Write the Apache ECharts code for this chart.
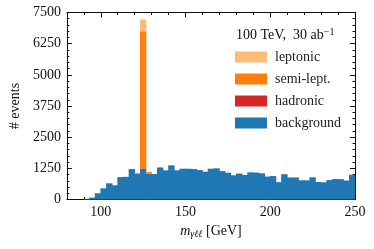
<!DOCTYPE html>
<html><head><meta charset="utf-8">
<script src="https://cdn.jsdelivr.net/npm/echarts@6/dist/echarts.min.js"></script>
<style>html,body{margin:0;padding:0;background:#fff}#c{width:374px;height:249px}</style>
</head><body><div id="c"></div>
<script>
// histogram binning: 51 bins of 10/3 GeV from 80 to 250
const xMin = 80, xMax = 250, nBins = 51;
const xTickLabels = [100, 150, 200, 250];
const yTicks = [0, 1250, 2500, 3750, 5000, 6250, 7500];

const background = [0,0,0,25,75,250,450,650,570,900,
  910,1220,1020,1230,1040,1020,1285,1170,1370,1170,
  1235,1235,1220,1180,1115,1235,1250,1140,1075,970,
  1040,985,1090,1080,1050,920,940,695,1015,885,
  885,770,770,890,700,690,780,820,815,760,995];
const hadronic = [0,0,0,0,0,0,0,0,0,0,
  0,0,0,20,0,0,0,0,0,0,
  0,0,0,0,0,0,0,0,0,0,
  0,0,0,0,0,0,0,0,0,0,
  0,0,0,0,0,0,0,0,0,0,0];
const semiLept = [0,0,0,0,0,0,0,0,0,0,
  0,0,40,5500,60,0,0,0,0,0,
  0,0,0,0,0,0,0,0,0,0,
  0,0,0,0,0,0,0,0,0,0,
  0,0,0,0,0,0,0,0,0,0,0];
const leptonic = [0,0,0,0,0,0,0,0,0,0,
  0,0,0,470,10,0,0,0,0,0,
  0,0,0,0,0,0,0,0,0,0,
  0,0,0,0,0,0,0,0,0,0,
  0,0,0,0,0,0,0,0,0,0,0];

const binW = (xMax - xMin) / nBins;
const categories = background.map((_, i) => (xMin + i * binW).toFixed(2));

const FONT = 'Liberation Serif';
const BLACK = '#111';

function bar(name, data, color) {
  return { name, type: 'bar', stack: 'h', data: data.map(v => v === 0 ? '-' : v),
    xAxisIndex: 0, yAxisIndex: 0,
    barWidth: 6.4, itemStyle: { color },
    silent: true, emphasis: { disabled: true } };
}
const lineStyle = { color: BLACK, width: 1 };
function valX(pos, major, labels, extra) {
  return Object.assign({
    type: 'value', min: xMin, max: xMax, position: pos, gridIndex: 0,
    axisLine: { show: major, onZero: false, lineStyle },
    axisTick: major ? { show: true, inside: true, length: 5, lineStyle, customValues: xTickLabels }
                    : { show: true, inside: true, length: 2.5, lineStyle },
    axisLabel: labels ? { show: true, customValues: xTickLabels, margin: 6, color: BLACK, fontFamily: FONT, fontSize: 14 }
                      : { show: false },
    splitLine: { show: false }
  }, major ? {} : { interval: 10 }, extra || {});
}
function valY(pos, labels, extra) {
  return Object.assign({
    type: 'value', min: 0, max: 7500, interval: 1250, position: pos,
    axisLine: { show: true, onZero: false, lineStyle },
    axisTick: { show: true, inside: true, length: 5, lineStyle },
    minorTick: { show: true, splitNumber: 5, length: 2.5, lineStyle },
    axisLabel: labels ? { show: true, margin: 6, color: BLACK, fontFamily: FONT, fontSize: 14,
                          formatter: v => String(v) } : { show: false },
    splitLine: { show: false }
  }, extra || {});
}

const chart = echarts.init(document.getElementById('c'), null, { renderer: 'canvas' });
chart.setOption({
  animation: false,
  grid: { left: 59.5, right: 19, top: 12.5, bottom: 49.5 },
  title: {
    left: 231, top: 22,
    text: '{a|100 TeV,  30 ab}{b|−1}',
    textStyle: { fontWeight: 'normal', rich: {
      a: { fontFamily: FONT, fontSize: 14, fontWeight: 'normal', color: BLACK },
      b: { fontFamily: FONT, fontSize: 10, fontWeight: 'normal', color: BLACK, padding: [0, 0, 7, 0] }
    } }
  },
  legend: {
    data: ['leptonic', 'semi-lept.', 'hadronic', 'background'],
    orient: 'vertical', left: 230, top: 45,
    itemWidth: 32, itemHeight: 11, itemGap: 8,
    icon: 'rect',
    textStyle: { fontFamily: FONT, fontSize: 14, color: '#222', padding: [0, 0, 0, 3], lineHeight: 14 }
  },
  xAxis: [
    { type: 'category', data: categories, show: false, boundaryGap: true, gridIndex: 0 },
    valX('bottom', true, true, {
      name: '{i|m}{s|γℓℓ} [GeV]', nameLocation: 'middle', nameGap: 24,
      nameTextStyle: { fontFamily: FONT, fontSize: 14, color: BLACK, rich: {
        i: { fontFamily: FONT, fontSize: 14, fontStyle: 'italic', color: BLACK },
        s: { fontFamily: FONT, fontSize: 10, fontStyle: 'italic', color: BLACK, padding: [6, 0, 0, 0] }
      } }
    }),
    valX('bottom', false, false),
    valX('top', true, false),
    valX('top', false, false)
  ],
  yAxis: [
    valY('left', true, { name: '# events', nameLocation: 'middle', nameGap: 40,
      nameTextStyle: { fontFamily: FONT, fontSize: 14, color: BLACK } }),
    valY('right', false)
  ],
  series: [
    bar('background', background, '#1f77b4'),
    bar('hadronic', hadronic, '#d62728'),
    bar('semi-lept.', semiLept, '#ff7f0e'),
    bar('leptonic', leptonic, '#ffbb78')
  ]
});
</script></body></html>
